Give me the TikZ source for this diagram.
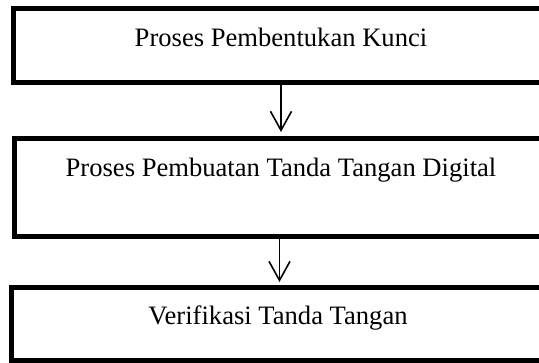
\documentclass[tikz,border=0pt]{standalone}
\usepackage{fontspec}
\setmainfont{Liberation Serif}
\usetikzlibrary{arrows.meta}
\begin{document}
\begin{tikzpicture}[x=1pt,y=-1pt,
  box/.style={draw, line width=5pt, inner sep=0pt, outer sep=0pt, anchor=base,
    font=\fontsize{26.6}{30}\selectfont},
  arr/.style={line width=1.6pt, -{Straight Barb[length=19pt,width=21pt]}}]
\useasboundingbox (0,0) rectangle (539,363);
\clip (0,0) rectangle (539,363);
\node[box, minimum width=536pt, text height=37.8pt, text depth=36pt] (b1) at (281,46.5) {Proses Pembentukan Kunci};
\node[box, minimum width=534pt, text height=38.5pt, text depth=59.5pt] (b2) at (281,177) {Proses Pembuatan Tanda Tangan Digital};
\node[box, minimum width=532.6pt, text height=37pt, text depth=35.8pt] (b3) at (278,325) {Verifikasi Tanda Tangan};
\draw[arr, shorten >=6.5pt] (b1.south) -- (b2.north);
\draw[arr, shorten >=6pt] ([xshift=-1.5pt]b2.south) -- ([xshift=-1.5pt]b2.south |- b3.north);
\end{tikzpicture}
\end{document}
